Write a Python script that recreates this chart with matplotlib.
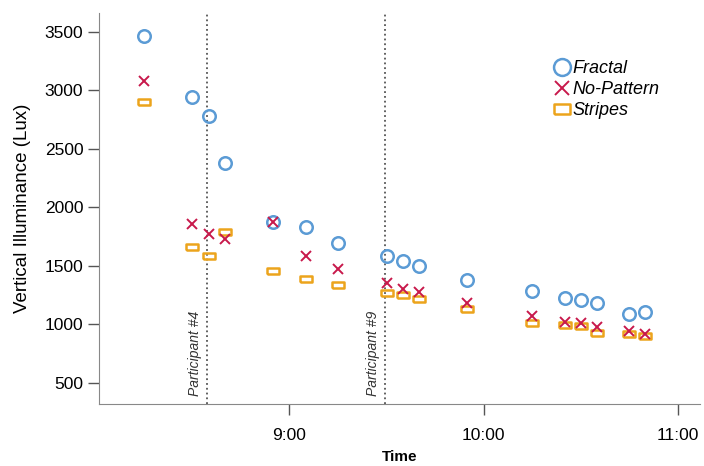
import matplotlib.pyplot as plt
from matplotlib.ticker import FixedLocator, FuncFormatter

plt.rcParams['font.family'] = ['Liberation Sans', 'DejaVu Sans']

# measurement times (h:mm) and vertical illuminance per pattern
times = ['8:15', '8:30', '8:35', '8:40', '8:55', '9:05', '9:15', '9:30', '9:35',
         '9:40', '9:55', '10:15', '10:25', '10:30', '10:35', '10:45', '10:50']
fractal = [3466, 2942, 2783, 2381, 1872, 1835, 1693, 1585, 1545,
           1502, 1380, 1283, 1223, 1206, 1186, 1087, 1109]
no_pattern = [3082, 1860, 1772, 1727, 1872, 1585, 1471, 1351, 1303,
              1280, 1186, 1072, 1018, 1010, 981, 947, 918]
stripes = [2902, 1664, 1585, 1792, 1456, 1388, 1340, 1271, 1254,
           1220, 1135, 1015, 993, 987, 927, 918, 901]

participants = ['Participant #4', 'Participant #9']
participant_times = ['8:34:30', '9:29:30']


def to_hours(s):
    parts = [float(p) for p in s.split(':')]
    h = parts[0] + parts[1] / 60
    if len(parts) > 2:
        h += parts[2] / 3600
    return h


t = [to_hours(s) for s in times]

fig = plt.figure(figsize=(7.04, 4.66), dpi=100)
ax = fig.add_axes([0.14, 0.133, 0.855, 0.84])

rect = [(-1, -0.55), (1, -0.55), (1, 0.55), (-1, 0.55), (-1, -0.55)]

ax.plot(t, fractal, 'o', ms=9, mfc='none', mec='#5b9bd5', mew=1.8, label='Fractal', zorder=3)
ax.plot(t, no_pattern, 'x', ms=7.5, mec='#c8194b', mew=1.4, label='No-Pattern', zorder=4)
ax.plot(t, stripes, marker=rect, ls='none', ms=9, mfc='none', mec='#eca41c', mew=1.8,
        label='Stripes', zorder=3)

for name, pt in zip(participants, participant_times):
    x = to_hours(pt)
    ax.axvline(x, color='#555555', ls=':', lw=1.3, zorder=1)
    ax.text(x - 0.025, 388, name, rotation=90, ha='right', va='bottom',
            fontsize=10, style='italic', color='#333333')

ax.set_xlim(to_hours('8:01'), to_hours('11:07'))
ax.set_ylim(321, 3662)
ax.xaxis.set_major_locator(FixedLocator([9, 10, 11]))
ax.xaxis.set_major_formatter(FuncFormatter(lambda v, p: '%d:00' % round(v)))
ax.set_yticks([500, 1000, 1500, 2000, 2500, 3000, 3500])

for side in ['top', 'right']:
    ax.spines[side].set_visible(False)
for side in ['left', 'bottom']:
    ax.spines[side].set_color('#888888')
ax.tick_params(direction='out', length=8, width=1, color='#555555', labelsize=12.5)
ax.tick_params(axis='y', pad=3)
ax.tick_params(axis='x', pad=9)

ax.set_xlabel('Time', fontsize=11, fontweight='bold', labelpad=5)
ax.set_ylabel('Vertical Illuminance (Lux)', fontsize=13.5, labelpad=10)

leg = ax.legend(loc='upper left', bbox_to_anchor=(0.728, 0.92), frameon=False,
                handletextpad=0.1, labelspacing=0.22, handlelength=1.0, markerscale=1.35,
                prop={'style': 'italic', 'size': 13})

fig.savefig('out.png', dpi=100)
